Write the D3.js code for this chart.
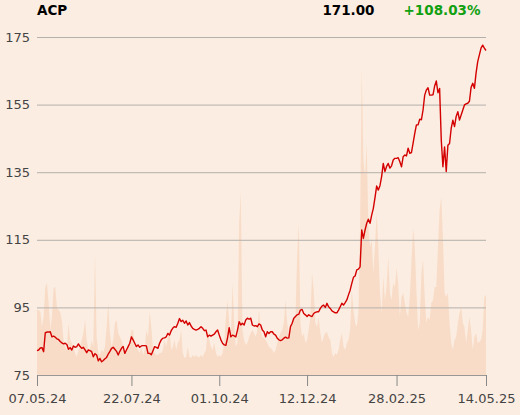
<!DOCTYPE html>
<html>
<head>
<meta charset="utf-8">
<script src="https://cdn.jsdelivr.net/npm/d3@7/dist/d3.min.js"></script>
<style>
  html, body { margin: 0; padding: 0; background: #fbede1; }
  svg { display: block; }
  text { font-family: "DejaVu Sans", sans-serif; }
</style>
</head>
<body>
<svg id="chart" width="520" height="415"></svg>
<script>
// ---- data ----
const ticker = "ACP";
const lastPrice = "171.00";
const changePct = "+108.03%";

const prices = [
  82.2, 82.4, 83.0, 83.1, 81.9, 87.5, 87.7, 87.7, 87.8, 86.3,
  86.5, 86.2, 85.7, 85.5, 84.9, 84.5, 84.2, 84.4, 84.0, 82.6,
  83.1, 82.4, 83.6, 83.2, 83.4, 84.2, 83.4, 82.9, 83.2, 82.4,
  81.6, 82.4, 82.2, 81.9, 80.4, 81.3, 80.9, 79.2, 79.9, 78.9,
  79.3, 79.8, 80.2, 81.2, 82.0, 82.9, 83.2, 82.6, 82.0, 80.9,
  82.0, 82.9, 83.4, 81.4, 82.4, 83.4, 84.4, 86.3, 85.4, 84.4,
  83.4, 83.9, 83.2, 83.6, 83.7, 83.7, 83.6, 81.4, 81.4, 81.0,
  82.2, 83.4, 83.2, 82.9, 84.4, 85.4, 85.9, 86.0, 86.3, 87.3,
  86.8, 88.1, 88.9, 89.3, 89.1, 90.3, 91.7, 90.8, 91.2, 90.3,
  91.0, 89.8, 90.5, 89.5, 88.8, 88.5, 88.3, 88.5, 88.8, 89.3,
  88.8, 88.1, 88.3, 86.3, 86.8, 86.5, 86.8, 87.1, 87.8, 88.3,
  86.8, 85.4, 84.4, 83.9, 83.8, 86.0, 89.0, 86.3, 86.8, 86.6,
  86.3, 88.3, 90.8, 89.8, 90.3, 89.8, 91.3, 91.8, 91.5, 91.8,
  89.8, 89.5, 89.6, 89.3, 90.1, 89.8, 88.3, 87.8, 86.3, 87.8,
  87.3, 87.8, 87.8, 87.1, 86.8, 85.9, 85.4, 85.2, 85.4, 85.9,
  86.2, 85.9, 86.0, 89.3, 90.3, 91.8, 92.3, 92.8, 93.0, 94.2,
  94.4, 93.2, 92.8, 92.3, 92.8, 92.5, 92.3, 93.2, 93.5, 93.7,
  93.7, 94.7, 95.4, 95.7, 95.0, 96.2, 95.2, 94.7, 94.0, 93.7,
  93.4, 93.4, 94.2, 95.2, 96.2, 95.7, 96.4, 97.2, 98.7, 100.1,
  102.1, 103.9, 104.3, 106.1, 106.3, 107.0, 117.9, 115.4, 117.9, 119.9,
  121.1, 119.9, 122.3, 124.3, 127.5, 130.9, 129.7, 131.0, 133.7, 137.6,
  135.2, 136.7, 137.6, 136.2, 136.9, 138.6, 139.1, 139.1, 139.3, 138.1,
  136.6, 139.6, 140.1, 139.8, 142.1, 140.6, 140.8, 143.6, 146.5, 149.0,
  149.0, 150.7, 150.5, 153.4, 157.8, 159.3, 160.0, 157.8, 157.8, 157.9,
  160.5, 162.0, 158.5, 159.8, 144.5, 136.6, 142.5, 135.2, 143.0, 143.5,
  148.0, 150.4, 148.5, 151.5, 152.9, 150.4, 151.9, 153.4, 154.9, 155.2,
  155.4, 156.0, 160.1, 161.3, 159.8, 164.3, 167.7, 169.7, 171.7, 172.6,
  171.7, 171.0
];

const volumes = [
  65, 65, 63, 48, 58, 88, 92, 72, 45, 58,
  87, 88, 68, 65, 63, 55, 35, 28, 25, 52,
  35, 32, 28, 22, 18, 25, 28, 35, 42, 55,
  35, 25, 25, 35, 28, 122, 38, 22, 20, 25,
  23, 28, 47, 72, 42, 28, 35, 52, 55, 42,
  38, 35, 28, 25, 22, 28, 35, 45, 45, 28,
  27, 25, 22, 28, 20, 25, 45, 38, 63, 48,
  25, 22, 20, 20, 22, 22, 25, 35, 28, 38,
  45, 25, 28, 35, 25, 32, 35, 45, 22, 17,
  18, 28, 18, 17, 20, 18, 20, 18, 18, 20,
  18, 22, 25, 45, 35, 28, 25, 32, 22, 18,
  20, 18, 22, 32, 58, 75, 52, 35, 92, 52,
  28, 32, 152, 183, 45, 35, 30, 32, 38, 42,
  45, 42, 38, 45, 65, 45, 38, 37, 35, 32,
  28, 27, 25, 22, 25, 32, 38, 42, 45, 52,
  75, 52, 42, 45, 52, 55, 58, 118, 152, 52,
  38, 42, 32, 35, 45, 58, 102, 85, 52, 48,
  58, 42, 32, 38, 42, 43, 38, 35, 22, 18,
  22, 20, 25, 35, 42, 28, 25, 32, 35, 45,
  85, 65, 52, 48, 62, 148, 308, 215, 198, 232,
  148, 128, 135, 102, 128, 162, 128, 82, 62, 98,
  75, 88, 118, 82, 75, 92, 88, 107, 92, 58,
  78, 82, 72, 63, 58, 78, 112, 147, 128, 85,
  45, 52, 102, 115, 78, 52, 58, 55, 72, 75,
  88, 88, 128, 165, 178, 138, 82, 78, 82, 52,
  32, 25, 35, 38, 52, 62, 68, 52, 48, 32,
  45, 58, 45, 25, 38, 42, 32, 33, 35, 45,
  78, 80
];

const yTicks = [75, 95, 115, 135, 155, 175];
const xTickLabels = ["07.05.24", "22.07.24", "01.10.24", "12.12.24", "28.02.25", "14.05.25"];
const xTickIndex = [0, 57, 110, 163, 217, 271];

// ---- layout ----
const plotLeft = 37, plotRight = 486, plotTop = 37, plotBottom = 375;
const svg = d3.select("#chart");

const x = d3.scaleLinear().domain([0, prices.length - 1]).range([plotLeft, plotRight]);
const y = d3.scaleLinear().domain([75, 175]).range([plotBottom, plotTop]);
const yVol = d3.scaleLinear().domain([0, d3.max(volumes)]).range([plotBottom, 67]);

// volume area
svg.append("path")
  .datum(volumes)
  .attr("fill", "#f8dcc7")
  .attr("d", d3.area()
    .x((d, i) => x(i))
    .y0(plotBottom)
    .y1(d => yVol(d)));

// gridlines + y labels
const yAxis = d3.axisLeft(y).tickValues(yTicks).tickSize(-(plotRight - plotLeft)).tickPadding(7);
const gy = svg.append("g").attr("transform", `translate(${plotLeft},0)`).call(yAxis);
gy.select(".domain").remove();
gy.selectAll(".tick line").attr("stroke", "#b4b0ac").attr("stroke-width", 1);
gy.selectAll(".tick").filter(d => d === 75).select("line").remove();
gy.selectAll(".tick text")
  .attr("fill", "#444").attr("font-size", "13px")
  .attr("font-family", "DejaVu Sans, sans-serif");

// x axis
const tickMap = new Map(xTickIndex.map((v, i) => [v, xTickLabels[i]]));
const xAxis = d3.axisBottom(x).tickValues(xTickIndex).tickFormat(d => tickMap.get(d))
  .tickSize(11).tickSizeOuter(0).tickPadding(8);
const gx = svg.append("g").attr("transform", `translate(0,${plotBottom})`).call(xAxis);
gx.select(".domain").attr("stroke", "#9a9896");
gx.selectAll(".tick line").attr("stroke", "#888");
gx.selectAll(".tick text")
  .attr("fill", "#444").attr("font-size", "13px")
  .attr("font-family", "DejaVu Sans, sans-serif");

// price line
svg.append("path")
  .datum(prices)
  .attr("fill", "none")
  .attr("stroke", "#d40000")
  .attr("stroke-width", 1.4)
  .attr("stroke-linejoin", "round")
  .attr("d", d3.line().x((d, i) => x(i)).y(d => y(d)));

// header
svg.append("text").attr("x", 37).attr("y", 15)
  .attr("font-size", "13.5px").attr("font-weight", "bold").attr("fill", "#000")
  .text(ticker);
svg.append("text").attr("x", 374.5).attr("y", 15).attr("text-anchor", "end")
  .attr("font-size", "13.5px").attr("font-weight", "bold").attr("fill", "#000")
  .text(lastPrice);
svg.append("text").attr("x", 480.5).attr("y", 15).attr("text-anchor", "end")
  .attr("font-size", "13.5px").attr("font-weight", "bold").attr("fill", "#11a011")
  .text(changePct);
</script>
</body>
</html>
